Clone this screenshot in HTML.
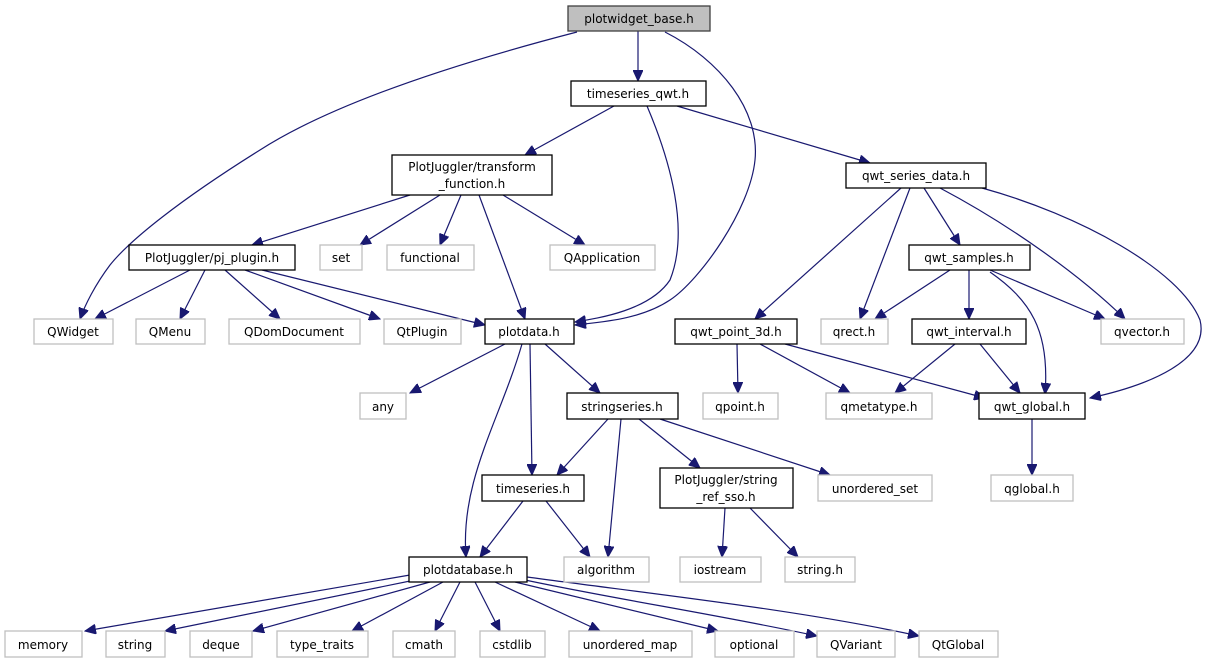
<!DOCTYPE html>
<html><head><meta charset="utf-8"><style>
html,body{margin:0;padding:0;background:#fff;}
svg{display:block;}
text{font-family:"DejaVu Sans","Liberation Sans",sans-serif;font-size:12px;fill:#000;text-anchor:middle;}
.b{fill:#fff;stroke:#000;stroke-width:1.3;}
.g{fill:#fff;stroke:#bfbfbf;stroke-width:1.3;}
.r{fill:#bfbfbf;stroke:#404040;stroke-width:1.3;}
path.e{fill:none;stroke:#191970;stroke-width:1.2;marker-end:url(#a);}
</style></head><body>
<svg width="1207" height="664" viewBox="0 0 1207 664" xmlns="http://www.w3.org/2000/svg">
<defs><marker id="a" markerUnits="userSpaceOnUse" markerWidth="12" markerHeight="10" refX="11" refY="5" orient="auto"><path d="M0,0 L11,5 L0,10 z" fill="#191970" stroke="#191970"/></marker></defs>

<!-- edges -->
<path class="e" d="M638,31 L638,81"/>
<path class="e" d="M577,32 C450,65 330,105 260,150 C180,200 130,240 110,265 C95,285 85,305 80,319"/>
<path class="e" d="M665,32 C720,60 760,110 755,160 C750,210 700,280 670,300 C640,320 600,322 575,325"/>
<path class="e" d="M614,106 L525,155"/>
<path class="e" d="M647,106 C670,160 690,230 670,280 C650,310 600,318 575,322"/>
<path class="e" d="M677,106 L870,163"/>
<path class="e" d="M410,195 L252,245"/>
<path class="e" d="M440,195 L360,245"/>
<path class="e" d="M461,195 L440,245"/>
<path class="e" d="M479,195 L525,319"/>
<path class="e" d="M503,195 L585,245"/>
<path class="e" d="M901,188 L755,319"/>
<path class="e" d="M910,188 L860,319"/>
<path class="e" d="M924,188 L960,245"/>
<path class="e" d="M940,188 C1010,225 1080,275 1125,319"/>
<path class="e" d="M982,188 C1080,215 1180,270 1200,320 C1210,360 1150,385 1090,398"/>
<path class="e" d="M950,270 L875,319"/>
<path class="e" d="M969,270 L969,319"/>
<path class="e" d="M990,270 L1105,319"/>
<path class="e" d="M990,272 C1030,300 1050,330 1045,394"/>
<path class="e" d="M190,270 L95,319"/>
<path class="e" d="M205,270 L180,319"/>
<path class="e" d="M225,270 L280,319"/>
<path class="e" d="M245,270 L380,319"/>
<path class="e" d="M262,270 L485,325"/>
<path class="e" d="M737,344 L738,393"/>
<path class="e" d="M760,344 L850,393"/>
<path class="e" d="M785,344 L985,398"/>
<path class="e" d="M955,344 L895,393"/>
<path class="e" d="M980,344 L1020,393"/>
<path class="e" d="M1032,419 L1032,475"/>
<path class="e" d="M505,344 L410,393"/>
<path class="e" d="M522,344 C500,420 460,480 466,557"/>
<path class="e" d="M530,344 L532,475"/>
<path class="e" d="M545,344 L600,393"/>
<path class="e" d="M608,419 L557,475"/>
<path class="e" d="M621,419 L608,557"/>
<path class="e" d="M639,419 L700,468"/>
<path class="e" d="M660,419 L830,475"/>
<path class="e" d="M523,501 L480,557"/>
<path class="e" d="M546,501 L590,557"/>
<path class="e" d="M725,508 L722,557"/>
<path class="e" d="M750,508 L798,557"/>
<path class="e" d="M410,575 L85,631"/>
<path class="e" d="M415,580 L165,631"/>
<path class="e" d="M430,582 L253,631"/>
<path class="e" d="M443,582 L352,631"/>
<path class="e" d="M460,582 L435,631"/>
<path class="e" d="M475,582 L500,631"/>
<path class="e" d="M495,582 L600,631"/>
<path class="e" d="M515,582 L718,631"/>
<path class="e" d="M525,580 C620,600 720,615 817,636"/>
<path class="e" d="M527,577 C660,595 800,610 919,636"/>

<!-- nodes -->
<rect class="r" x="568" y="6" width="142" height="25"/><text x="639" y="23">plotwidget_base.h</text>
<rect class="b" x="571" y="81" width="135" height="25"/><text x="638" y="98">timeseries_qwt.h</text>
<rect class="b" x="392" y="155" width="160" height="40"/><text x="472" y="171">PlotJuggler/transform</text><text x="472" y="188">_function.h</text>
<rect class="b" x="846" y="163" width="140" height="25"/><text x="916" y="180">qwt_series_data.h</text>
<rect class="b" x="129" y="245" width="166" height="25"/><text x="212" y="262">PlotJuggler/pj_plugin.h</text>
<rect class="g" x="320" y="245" width="42" height="25"/><text x="341" y="262">set</text>
<rect class="g" x="387" y="245" width="87" height="25"/><text x="430" y="262">functional</text>
<rect class="g" x="550" y="245" width="105" height="25"/><text x="602" y="262">QApplication</text>
<rect class="b" x="909" y="245" width="121" height="25"/><text x="969" y="262">qwt_samples.h</text>
<rect class="g" x="34" y="319" width="79" height="25"/><text x="73" y="336">QWidget</text>
<rect class="g" x="136" y="319" width="69" height="25"/><text x="170" y="336">QMenu</text>
<rect class="g" x="229" y="319" width="131" height="25"/><text x="294" y="336">QDomDocument</text>
<rect class="g" x="384" y="319" width="77" height="25"/><text x="422" y="336">QtPlugin</text>
<rect class="b" x="485" y="319" width="89" height="25"/><text x="529" y="336">plotdata.h</text>
<rect class="b" x="675" y="319" width="122" height="25"/><text x="736" y="336">qwt_point_3d.h</text>
<rect class="g" x="821" y="319" width="67" height="25"/><text x="854" y="336">qrect.h</text>
<rect class="b" x="912" y="319" width="114" height="25"/><text x="969" y="336">qwt_interval.h</text>
<rect class="g" x="1101" y="319" width="83" height="25"/><text x="1142" y="336">qvector.h</text>
<rect class="g" x="360" y="393" width="46" height="26"/><text x="383" y="411">any</text>
<rect class="b" x="567" y="393" width="111" height="26"/><text x="622" y="411">stringseries.h</text>
<rect class="g" x="703" y="393" width="75" height="26"/><text x="740" y="411">qpoint.h</text>
<rect class="g" x="826" y="393" width="106" height="26"/><text x="879" y="411">qmetatype.h</text>
<rect class="b" x="979" y="393" width="106" height="26"/><text x="1032" y="411">qwt_global.h</text>
<rect class="b" x="482" y="475" width="102" height="26"/><text x="533" y="493">timeseries.h</text>
<rect class="b" x="660" y="468" width="133" height="40"/><text x="726" y="484">PlotJuggler/string</text><text x="726" y="501">_ref_sso.h</text>
<rect class="g" x="818" y="475" width="114" height="26"/><text x="875" y="493">unordered_set</text>
<rect class="g" x="991" y="475" width="82" height="26"/><text x="1032" y="493">qglobal.h</text>
<rect class="b" x="409" y="557" width="118" height="25"/><text x="468" y="574">plotdatabase.h</text>
<rect class="g" x="564" y="557" width="85" height="25"/><text x="606" y="574">algorithm</text>
<rect class="g" x="680" y="557" width="81" height="25"/><text x="720" y="574">iostream</text>
<rect class="g" x="785" y="557" width="70" height="25"/><text x="820" y="574">string.h</text>
<rect class="g" x="5" y="631" width="77" height="26"/><text x="43" y="649">memory</text>
<rect class="g" x="106" y="631" width="59" height="26"/><text x="135" y="649">string</text>
<rect class="g" x="190" y="631" width="62" height="26"/><text x="221" y="649">deque</text>
<rect class="g" x="277" y="631" width="91" height="26"/><text x="322" y="649">type_traits</text>
<rect class="g" x="393" y="631" width="62" height="26"/><text x="424" y="649">cmath</text>
<rect class="g" x="480" y="631" width="65" height="26"/><text x="512" y="649">cstdlib</text>
<rect class="g" x="569" y="631" width="123" height="26"/><text x="630" y="649">unordered_map</text>
<rect class="g" x="715" y="631" width="79" height="26"/><text x="754" y="649">optional</text>
<rect class="g" x="817" y="631" width="78" height="26"/><text x="856" y="649">QVariant</text>
<rect class="g" x="919" y="631" width="79" height="26"/><text x="958" y="649">QtGlobal</text>
</svg>
</body></html>
